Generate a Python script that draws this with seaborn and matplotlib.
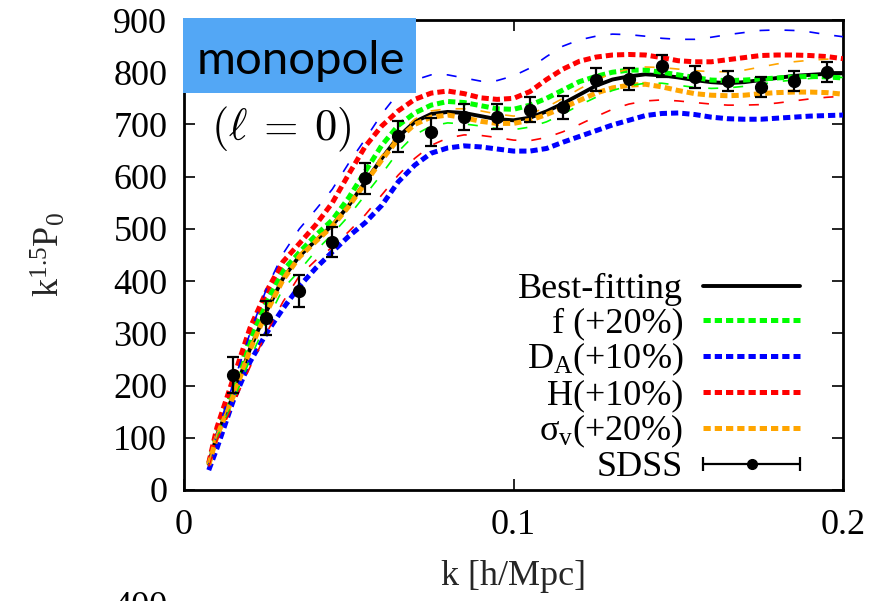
import matplotlib
matplotlib.use("Agg")
import matplotlib.pyplot as plt
import seaborn as sns
from matplotlib.lines import Line2D
from matplotlib.patches import Rectangle
from matplotlib.legend_handler import HandlerLine2D, HandlerTuple

# ---------------- data ----------------
k_model = [0.0075, 0.010, 0.015, 0.020, 0.025, 0.030, 0.035, 0.040, 0.045, 0.050,
           0.055, 0.060, 0.065, 0.070, 0.075, 0.080, 0.085, 0.090, 0.095, 0.100,
           0.105, 0.110, 0.115, 0.120, 0.125, 0.130, 0.135, 0.140, 0.145, 0.150,
           0.155, 0.160, 0.165, 0.170, 0.175, 0.180, 0.185, 0.190, 0.195, 0.200]

best_fit = [50, 105, 182, 270, 342, 405, 448, 478, 507, 545,
            590, 635, 676, 705, 720, 724, 722, 716, 710, 708,
            713, 725, 740, 757, 774, 786, 792, 796, 794, 790,
            785, 781, 779, 781, 785, 789, 793, 795, 797, 798]
f_plus = [50, 110, 195, 290, 360, 420, 455, 488, 517, 560,
          610, 660, 698, 722, 737, 744, 742, 736, 730, 729,
          737, 750, 766, 782, 792, 800, 804, 804, 800, 795,
          790, 785, 784, 785, 787, 789, 791, 792, 791, 789]
da_plus = [38, 80, 172, 245, 300, 347, 390, 425, 456, 486,
           512, 545, 590, 622, 645, 655, 659, 657, 653, 649,
           649, 654, 666, 677, 688, 699, 708, 717, 721, 722,
           719, 714, 711, 710, 710, 712, 714, 716, 717, 718]
h_plus = [52, 120, 215, 310, 380, 437, 472, 508, 550, 605,
          658, 697, 726, 748, 760, 764, 759, 751, 748, 750,
          763, 786, 806, 821, 829, 833, 834, 833, 828, 822,
          820, 820, 824, 828, 832, 833, 833, 832, 830, 826]
sv_plus = [48, 103, 180, 268, 340, 402, 446, 476, 505, 543,
           588, 632, 672, 700, 714, 718, 713, 706, 702, 702,
           708, 719, 732, 746, 760, 770, 775, 777, 772, 765,
           759, 756, 755, 756, 759, 761, 762, 762, 761, 758]
# thin (minus) variants
da_minus = [50, 110, 205, 300, 385, 452, 500, 537, 576, 626,
            672, 720, 760, 785, 795, 795, 789, 783, 784, 793,
            808, 830, 850, 862, 869, 873, 872, 869, 865, 863,
            863, 867, 872, 876, 880, 881, 880, 877, 872, 868]
h_minus = [45, 95, 165, 235, 300, 360, 410, 440, 465, 495,
           527, 565, 603, 635, 660, 674, 680, 679, 675, 670,
           669, 675, 686, 700, 715, 729, 739, 745, 747, 745,
           742, 739, 737, 737, 738, 741, 745, 749, 752, 754]
f_minus = [48, 100, 170, 250, 322, 385, 420, 458, 490, 525,
           565, 605, 648, 680, 697, 703, 701, 697, 692, 690,
           695, 705, 720, 737, 752, 765, 774, 779, 779, 775,
           771, 769, 770, 773, 777, 782, 785, 788, 790, 790]
sv_minus = [52, 108, 185, 273, 345, 408, 452, 481, 510, 548,
            594, 640, 681, 710, 726, 730, 730, 726, 720, 716,
            720, 733, 750, 768, 785, 798, 806, 810, 809, 806,
            803, 801, 801, 804, 810, 816, 820, 823, 825, 826]

k_sdss = [0.015, 0.025, 0.035, 0.045, 0.055, 0.065, 0.075, 0.085, 0.095, 0.105,
          0.115, 0.125, 0.135, 0.145, 0.155, 0.165, 0.175, 0.185, 0.195]
p_sdss = [220, 329, 381, 475, 597, 677, 686, 715, 715, 728,
          733, 786, 787, 812, 790, 784, 771, 784, 800]
e_sdss = [35, 33, 30, 29, 30, 29, 27, 25, 24, 24,
          22, 22, 21, 21, 21, 19, 19, 19, 19]

labels = ["Best-fitting", "f (+20%)", r"D$_{\rm A}$(+10%)", "H(+10%)",
          r"σ$_{\rm v}$(+20%)", "SDSS"]
x_ticks = [0, 0.1, 0.2]
x_ticklabels = ["0", "0.1", "0.2"]
y_ticks = [0, 100, 200, 300, 400, 500, 600, 700, 800, 900]

# ---------------- style ----------------
sns.set_theme(style="ticks")
plt.rcParams.update({
    "font.family": ["Liberation Serif", "DejaVu Serif"],
    "mathtext.fontset": "custom",
    "mathtext.rm": "Liberation Serif",
    "mathtext.it": "Liberation Serif:italic",
    "mathtext.bf": "Liberation Serif:bold",
    "axes.linewidth": 2.0,
    "axes.edgecolor": "black",
    "text.color": "black",
    "xtick.color": "black",
    "ytick.color": "black",
})
FS = 26

fig = plt.figure(figsize=(8.73, 6.01), dpi=100)
ax = fig.add_axes([0.2108, 0.1847, 0.7549, 0.782])

thick_dash = (0, (1.45, 0.8))
thin_dash = (0, (6.0, 9.0))

sns.lineplot(x=k_model, y=best_fit, ax=ax, color="black", lw=2.8, estimator=None, zorder=3)
sns.lineplot(x=k_model, y=f_plus, ax=ax, color="#00ff00", lw=3.6, linestyle=thick_dash, estimator=None, zorder=3)
sns.lineplot(x=k_model, y=da_plus, ax=ax, color="#0000ff", lw=3.6, linestyle=thick_dash, estimator=None, zorder=3)
sns.lineplot(x=k_model, y=h_plus, ax=ax, color="#ff0000", lw=3.6, linestyle=thick_dash, estimator=None, zorder=3)
sns.lineplot(x=k_model, y=sv_plus, ax=ax, color="#ffa500", lw=3.6, linestyle=thick_dash, estimator=None, zorder=3)
line_handles = list(ax.get_lines())

sns.lineplot(x=k_model, y=f_minus, ax=ax, color="#00ff00", lw=1.2, linestyle=thin_dash, estimator=None, zorder=4)
sns.lineplot(x=k_model, y=da_minus, ax=ax, color="#0000ff", lw=1.2, linestyle=thin_dash, estimator=None, zorder=4)
sns.lineplot(x=k_model, y=h_minus, ax=ax, color="#ff0000", lw=1.2, linestyle=thin_dash, estimator=None, zorder=4)
sns.lineplot(x=k_model, y=sv_minus, ax=ax, color="#ffa500", lw=1.2, linestyle=thin_dash, estimator=None, zorder=4)

ax.errorbar(k_sdss, p_sdss, yerr=e_sdss, fmt="o", color="black", ms=8.5,
            elinewidth=1.6, capsize=4.5, capthick=1.6, zorder=5)

ax.set_xlim(0, 0.2)
ax.set_ylim(0, 900)
ax.set_xticks(x_ticks)
ax.set_xticklabels(x_ticklabels)
ax.set_yticks(y_ticks)
ax.tick_params(axis="both", which="both", direction="in", length=8, width=1.2,
               top=True, right=True, labelsize=FS)
ax.tick_params(axis="x", pad=14)
ax.tick_params(axis="y", pad=12)
for s in ax.spines.values():
    s.set_visible(True)
    s.set_linewidth(2.0)
    s.set_color("black")

ax.set_xlabel("k [h/Mpc]", fontsize=FS)
ax.xaxis.set_label_coords(0.5, -0.15)
ax.set_ylabel(r"k$^{1.5}$P$_0$", fontsize=FS)
ax.yaxis.set_label_coords(-0.176, 0.5)

# legend
caps = Line2D([], [], color="black", lw=1.6, marker="|", ms=10, mew=1.6)
dot = Line2D([], [], color="black", lw=0, marker="o", ms=7)
handles = line_handles + [(caps, dot)]
leg = ax.legend(handles, labels, loc="lower right", bbox_to_anchor=(0.935, 0.012),
                frameon=False, markerfirst=False, fontsize=FS, handlelength=2.69,
                handletextpad=0.55, labelspacing=0.02, borderpad=0, borderaxespad=0,
                handler_map={caps: HandlerLine2D(numpoints=2, marker_pad=0),
                             dot: HandlerLine2D(numpoints=1),
                             tuple: HandlerTuple(ndivide=1)})

# title box
fig.add_artist(Rectangle((0.2096, 0.8458), 0.2673, 0.1238, transform=fig.transFigure,
                         facecolor="#53a7f5", edgecolor="none", zorder=10))
fig.text(0.3445, 1 - 74.5 / 601, "monopole", family="Lato", fontsize=34,
         ha="center", va="baseline", zorder=11)
fig.text(211 / 873, 1 - 140.5 / 601, r"$(\ell\:=\:0)$", fontsize=32, math_fontfamily="cm",
         ha="left", va="baseline", zorder=11)

# fragment of next panel's tick label (cut by the figure edge, as in the source)
fig.text(167 / 873, 1 - 591 / 601, "400", fontsize=FS, ha="right", va="top")

fig.savefig("out.png", dpi=100)
